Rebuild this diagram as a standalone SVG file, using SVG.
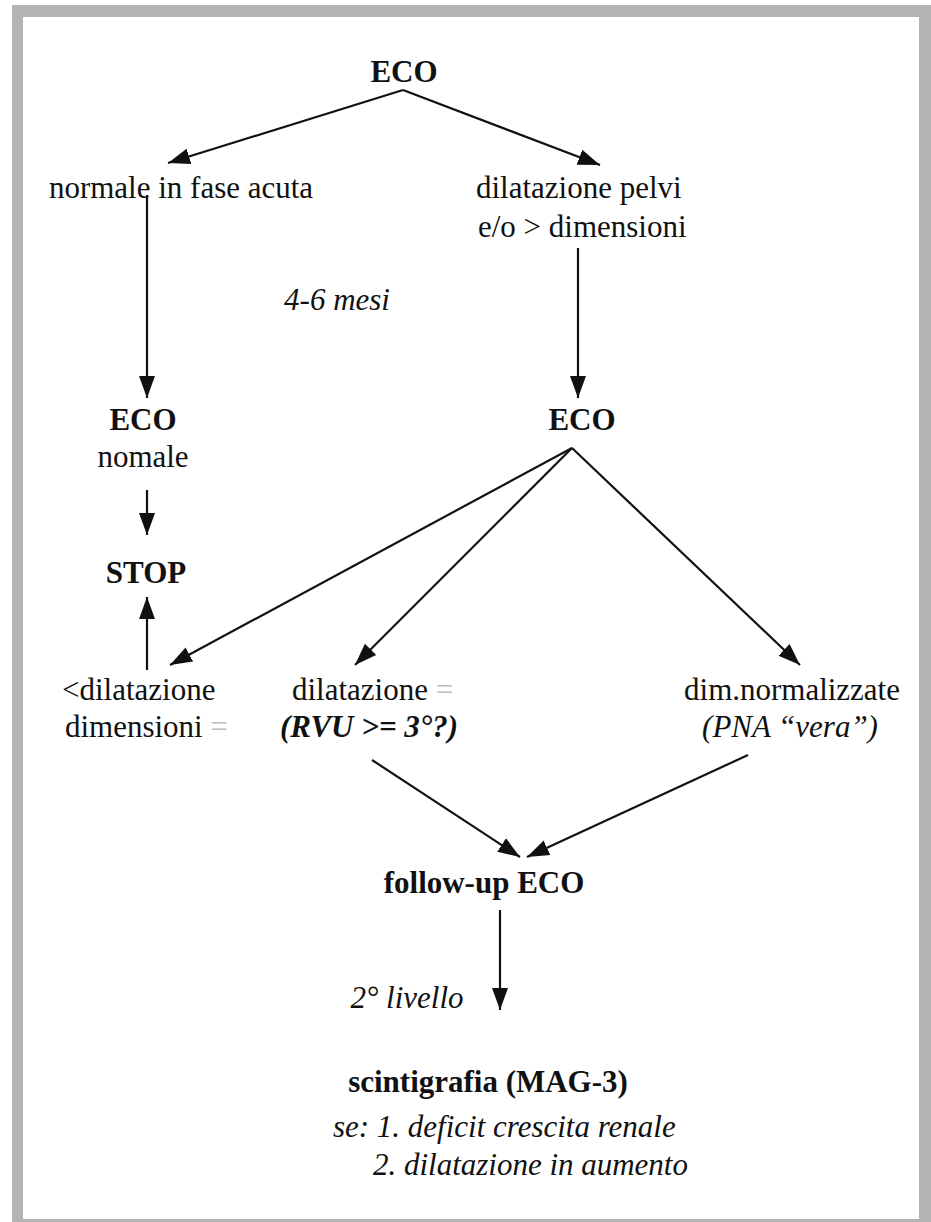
<svg xmlns="http://www.w3.org/2000/svg" width="931" height="1222" viewBox="0 0 931 1222">
<style>
text{font-family:"Liberation Serif","Times New Roman",serif;font-size:31px;fill:#111;text-anchor:middle}
.b{font-weight:bold}
.i{font-style:italic}
.l{text-anchor:start}
.f{fill:#bbb}
.c{stroke:#111;stroke-width:2.2;fill:none;marker-end:url(#ah)}
</style>
<defs>
<marker id="ah" markerUnits="userSpaceOnUse" markerWidth="24" markerHeight="18" refX="22" refY="9" orient="auto">
<path d="M0,1 L22,9 L0,17 z" fill="#111"/>
</marker>
</defs>
<rect x="12" y="5" width="919" height="1217" fill="#b3b3b3"/>
<rect x="23" y="17" width="896" height="1202" fill="#fff"/>
<g id="connectors">
<path class="c" d="M403,90 L168,163"/>
<path class="c" d="M403,90 L600,165"/>
<path class="c" d="M147,195 L147,398"/>
<path class="c" d="M578,248 L578,398"/>
<path class="c" d="M147,490 L147,535"/>
<path class="c" d="M147,670 L147,597"/>
<path class="c" d="M572,448 L170,665"/>
<path class="c" d="M572,448 L355,665"/>
<path class="c" d="M572,448 L800,665"/>
<path class="c" d="M372,760 L520,857"/>
<path class="c" d="M748,755 L527,857"/>
<path class="c" d="M500,910 L500,1010"/>
</g>
<g id="eco1"><text class="b" transform="translate(404,82) scale(1,1.05)">ECO</text></g>
<g id="normale"><text transform="translate(181,198) scale(1,1.05)">normale in fase acuta</text></g>
<g id="dilatazione-pelvi">
<text class="l" transform="translate(476,198) scale(1,1.05)">dilatazione pelvi</text>
<text class="l" transform="translate(478,237) scale(1,1.05)">e/o &gt; dimensioni</text>
</g>
<g id="mesi"><text class="i" transform="translate(337,310) scale(1,1.05)">4-6 mesi</text></g>
<g id="eco-nomale">
<text class="b" transform="translate(143,430) scale(1,1.05)">ECO</text>
<text transform="translate(143,467) scale(1,1.05)">nomale</text>
</g>
<g id="stop"><text class="b" transform="translate(146,583) scale(1,1.05)">STOP</text></g>
<g id="eco2"><text class="b" transform="translate(582,430) scale(1,1.05)">ECO</text></g>
<g id="minor-dilatazione">
<text class="l" transform="translate(62,700) scale(1,1.05)">&lt;dilatazione</text>
<text class="l" transform="translate(65,737) scale(1,1.05)">dimensioni <tspan class="f">=</tspan></text>
</g>
<g id="dilatazione-eq">
<text class="l" transform="translate(292,700) scale(1,1.05)">dilatazione <tspan class="f">=</tspan></text>
<text class="b i" transform="translate(369,737) scale(1,1.05)">(RVU &gt;= 3°?)</text>
</g>
<g id="dim-normalizzate">
<text transform="translate(792,700) scale(1,1.05)">dim.normalizzate</text>
<text class="i" transform="translate(790,737) scale(1,1.05)">(PNA “vera”)</text>
</g>
<g id="follow-up"><text class="b" transform="translate(484,893) scale(1,1.05)">follow-up ECO</text></g>
<g id="livello"><text class="i" transform="translate(407,1008) scale(1,1.05)">2° livello</text></g>
<g id="scintigrafia">
<text class="b" transform="translate(488,1092) scale(1,1.05)">scintigrafia (MAG-3)</text>
<text class="i l" transform="translate(333,1137) scale(1,1.05)">se: 1. deficit crescita renale</text>
<text class="i l" transform="translate(373,1175) scale(1,1.05)">2. dilatazione in aumento</text>
</g>
</svg>
